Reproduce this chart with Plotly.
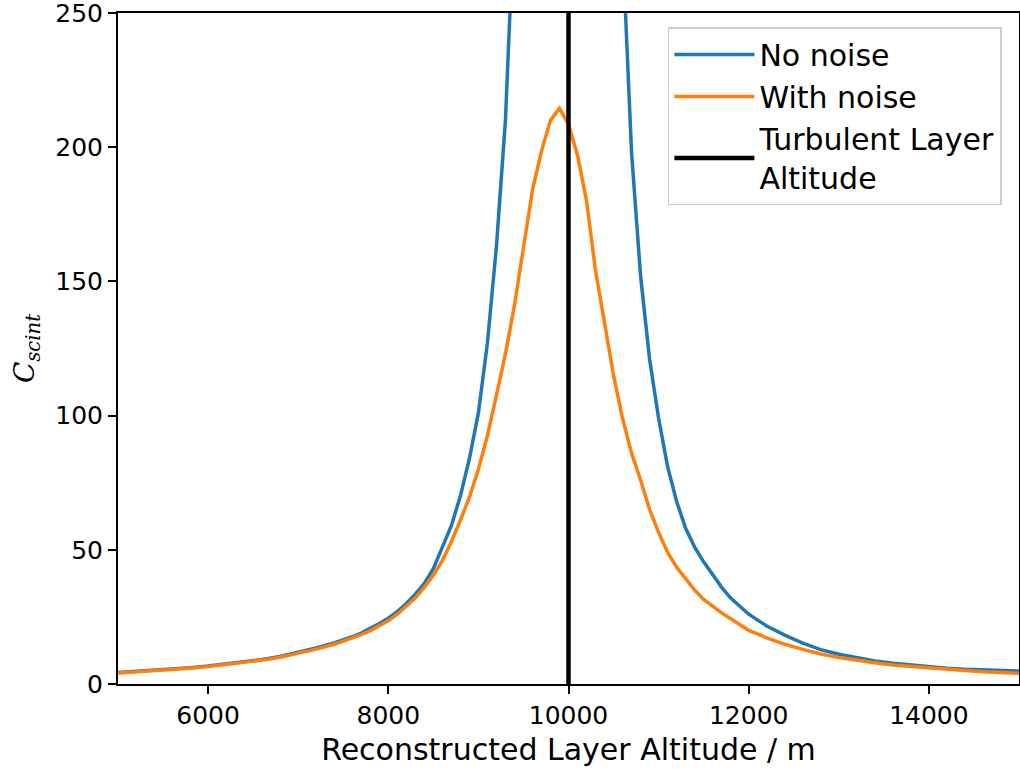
import plotly.graph_objects as go

altitude = [5000, 5200, 5400, 5600, 5800, 6000, 6200, 6400, 6600, 6800, 7000, 7200, 7400,
            7500, 7600, 7700, 7800, 7900, 8000, 8100, 8200, 8300, 8400, 8500, 8600, 8700,
            8800, 8900, 9000, 9100, 9200, 9300, 9400, 9500, 9600, 9700, 9800, 9900, 10000,
            10100, 10200, 10300, 10400, 10500, 10600, 10700, 10800, 10900, 11000, 11100,
            11200, 11300, 11400, 11500, 11600, 11700, 11800, 11900, 12000,
            12200, 12400, 12600, 12800, 13000, 13200, 13400, 13600, 13800, 14000,
            14200, 14400, 14600, 14800, 15000]

no_noise = [4.3, 4.7, 5.1, 5.6, 6.1, 6.7, 7.4, 8.2, 9.1, 10.3, 11.8, 13.4, 15.3,
            16.4, 17.6, 19.0, 20.6, 22.5, 24.5, 27.0, 30.0, 33.5, 37.5, 43.0, 51.0, 59.0,
            70.0, 84.0, 101.0, 127.0, 163.0, 210.0, 290.0, 430.0, None, None, None, None, None,
            None, None, None, None, 400.0, 275.0, 198.0, 152.0, 121.0, 99.0, 81.0,
            68.0, 58.0, 51.0, 45.5, 40.5, 36.0, 32.0, 29.0, 26.0,
            21.6, 18.2, 15.2, 12.8, 11.1, 9.7, 8.6, 7.7, 7.0, 6.4,
            5.9, 5.5, 5.2, 5.0, 4.8]

with_noise = [4.1, 4.5, 4.9, 5.4, 5.9, 6.5, 7.2, 8.0, 8.9, 10.0, 11.4, 13.0, 14.8,
              15.9, 17.0, 18.4, 19.9, 21.7, 23.6, 26.0, 28.8, 32.0, 36.0, 40.5, 46.0, 53.0,
              61.0, 69.5, 80.0, 92.5, 107.5, 123.0, 141.0, 162.0, 184.0, 198.5, 210.0, 214.5, 208.5,
              197.0, 180.0, 154.0, 134.0, 115.0, 99.0, 86.0, 76.0, 65.0, 56.5, 49.0,
              43.5, 39.0, 35.0, 31.5, 28.8, 26.5, 24.3, 22.0, 20.0,
              17.2, 14.8, 12.9, 11.2, 9.9, 8.8, 7.9, 7.1, 6.5, 5.9,
              5.4, 5.0, 4.6, 4.3, 4.0]

layer_altitude = 10000
y_range = [0, 250]
x_ticks = [6000, 8000, 10000, 12000, 14000]
y_ticks = [0, 50, 100, 150, 200, 250]

fig = go.Figure()
fig.add_trace(go.Scatter(x=altitude, y=no_noise, mode="lines", name="No noise",
                         line=dict(color="#1f77b4", width=3.5), connectgaps=False))
fig.add_trace(go.Scatter(x=altitude, y=with_noise, mode="lines", name="With noise",
                         line=dict(color="#ff7f0e", width=3.5)))
fig.add_trace(go.Scatter(x=[layer_altitude, layer_altitude], y=y_range, mode="lines",
                         name="Turbulent Layer<br>Altitude",
                         line=dict(color="black", width=4.5)))

axis_common = dict(showline=True, linecolor="black", linewidth=2, mirror=True,
                   ticks="outside", ticklen=8, tickwidth=2, tickcolor="black",
                   showgrid=False, zeroline=False, ticklabeloverflow="allow",
                   tickfont=dict(family="DejaVu Sans", size=25, color="black"))

fig.update_xaxes(range=[5000, 15000], tickvals=x_ticks, tickformat="d",
                 title=dict(text="Reconstructed Layer Altitude / m",
                            font=dict(family="DejaVu Sans", size=30, color="black"),
                            standoff=10),
                 **axis_common)
fig.update_yaxes(range=[y_range[0], y_range[1] + 0.001], tickvals=y_ticks,
                 title=dict(text="<i>C</i><sub><i>scint</i></sub>",
                            font=dict(family="DejaVu Serif", size=28, color="black"),
                            standoff=12),
                 **axis_common)

fig.update_layout(
    width=1020, height=769,
    margin=dict(l=118, r=1, t=13, b=85, autoexpand=False),
    plot_bgcolor="white", paper_bgcolor="white",
    font=dict(family="DejaVu Sans", color="black"),
    legend=dict(x=0.981, y=0.979, xanchor="right", yanchor="top",
                bgcolor="rgba(255,255,255,0.8)", bordercolor="#cccccc", borderwidth=1.5,
                font=dict(family="DejaVu Sans", size=30, color="black"),
                itemwidth=80, tracegroupgap=0),
    showlegend=True,
)

fig.write_html("out.html")
